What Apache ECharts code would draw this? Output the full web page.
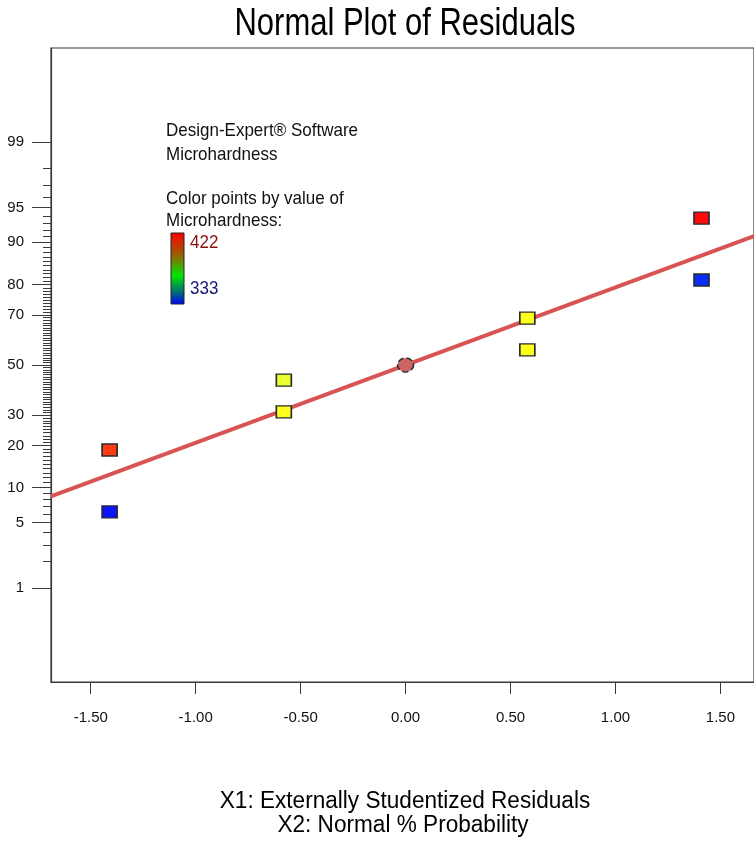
<!DOCTYPE html>
<html><head><meta charset="utf-8">
<script src="https://cdn.jsdelivr.net/npm/echarts@6/dist/echarts.min.js"></script>
<style>html,body{margin:0;padding:0;background:#fff}#c{width:754px;height:841px}</style>
</head><body><div id="c"></div>
<script>
// ---- data ----
const residuals      = [-1.41, -1.41, -0.58, -0.58, 0.00, 0.58, 0.58, 1.41, 1.41];
const probabilities  = [6.25, 18.75, 31.25, 43.75, 50.0, 56.25, 68.75, 81.25, 93.75];
const pointColors    = ['#0a14ff', '#ff3a14', '#ffff1e', '#eaff2e', '#cc6666', '#ffff1e', '#ffff1e', '#0a2cff', '#ff0a0a'];
const pointShapes    = ['rect', 'rect', 'rect', 'rect', 'circle', 'rect', 'rect', 'rect', 'rect'];
const fitResiduals   = [-1.69, 1.66];
const fitProbabilities = [8.5, 91.1];
const xTickValues    = [-1.5, -1.0, -0.5, 0.0, 0.5, 1.0, 1.5];
const yTickLabels    = [1, 5, 10, 20, 30, 50, 70, 80, 90, 95, 99];
const colorBarLabels = ['422', '333'];

// ---- normal probability scale (inverse normal CDF, Acklam) ----
function probit(p) {
  const a = [-3.969683028665376e+01, 2.209460984245205e+02, -2.759285104469687e+02, 1.383577518672690e+02, -3.066479806614716e+01, 2.506628277459239e+00];
  const b = [-5.447609879822406e+01, 1.615858368580409e+02, -1.556989798598866e+02, 6.680131188771972e+01, -1.328068155288572e+01];
  const c = [-7.784894002430293e-03, -3.223964580411365e-01, -2.400758277161838e+00, -2.549732539343734e+00, 4.374664141464968e+00, 2.938163982698783e+00];
  const d = [7.784695709041462e-03, 3.224671290700398e-01, 2.445134137142996e+00, 3.754408661907416e+00];
  const pl = 0.02425, ph = 1 - pl;
  let q, r;
  if (p < pl) {
    q = Math.sqrt(-2 * Math.log(p));
    return (((((c[0]*q+c[1])*q+c[2])*q+c[3])*q+c[4])*q+c[5]) / ((((d[0]*q+d[1])*q+d[2])*q+d[3])*q+1);
  } else if (p <= ph) {
    q = p - 0.5; r = q * q;
    return (((((a[0]*r+a[1])*r+a[2])*r+a[3])*r+a[4])*r+a[5])*q / (((((b[0]*r+b[1])*r+b[2])*r+b[3])*r+b[4])*r+1);
  } else {
    q = Math.sqrt(-2 * Math.log(1 - p));
    return -(((((c[0]*q+c[1])*q+c[2])*q+c[3])*q+c[4])*q+c[5]) / ((((d[0]*q+d[1])*q+d[2])*q+d[3])*q+1);
  }
}
const z = pct => probit(pct / 100);

const majorZ = yTickLabels.map(z);
const labelByZ = {};
yTickLabels.forEach((v, i) => { labelByZ[majorZ[i].toFixed(6)] = String(v); });
const minorZ = [];
for (let pc = 1; pc <= 99; pc++) if (yTickLabels.indexOf(pc) < 0) minorZ.push(z(pc));

const FONT = '"Liberation Sans", Arial, sans-serif';
const axisCol = '#3a3a3a';
const YMIN = -3.31, YMAX = 3.31, XMIN = -1.6893, XMAX = 1.66;

const pointData = residuals.map((x, i) => ({
  value: [x, z(probabilities[i])],
  symbol: pointShapes[i],
  symbolSize: pointShapes[i] === 'circle' ? [16, 14] : [15, 12],
  itemStyle: {
    color: pointColors[i],
    opacity: 1,
    borderColor: '#2a2a2a',
    borderWidth: 1.5,
    borderType: pointShapes[i] === 'circle' ? 'dashed' : 'solid'
  }
}));

function txt(x, y, text, size, sy, fill, align) {
  return { type: 'text', x: x, y: y, scaleY: sy,
    style: { text: text, fontSize: size, fontFamily: FONT, fill: fill, align: align, verticalAlign: 'middle' } };
}

const chart = echarts.init(document.getElementById('c'), null, { renderer: 'canvas' });
chart.setOption({
  animation: false,
  backgroundColor: '#fff',
  grid: { left: 51, top: 48, right: -2, bottom: 159, show: true, borderColor: axisCol, borderWidth: 1.2, containLabel: false },
  xAxis: {
    type: 'value', min: XMIN, max: XMAX,
    splitLine: { show: false },
    axisLine: { show: true, onZero: false, lineStyle: { color: axisCol, width: 1.2 } },
    axisTick: { show: true, length: 12, customValues: xTickValues, lineStyle: { color: axisCol, width: 1 } },
    axisLabel: { show: true, customValues: xTickValues, margin: 28, fontSize: 15, fontFamily: FONT, color: '#111',
      formatter: v => v.toFixed(2) }
  },
  yAxis: [{
    type: 'value', min: YMIN, max: YMAX, position: 'left',
    splitLine: { show: false },
    axisLine: { show: true, onZero: false, lineStyle: { color: axisCol, width: 1.2 } },
    axisTick: { show: true, length: 19, customValues: majorZ, lineStyle: { color: axisCol, width: 1 } },
    axisLabel: { show: true, customValues: majorZ, margin: 27, fontSize: 15, fontFamily: FONT, color: '#111',
      formatter: v => labelByZ[v.toFixed(6)] || '' }
  }, {
    type: 'value', min: YMIN, max: YMAX, position: 'left',
    splitLine: { show: false },
    axisLine: { show: false, onZero: false },
    axisTick: { show: true, length: 8, customValues: minorZ, lineStyle: { color: axisCol, width: 1 } },
    axisLabel: { show: false }
  }],
  series: [{
    type: 'line',
    data: fitResiduals.map((x, i) => [x, z(fitProbabilities[i])]),
    showSymbol: false, symbol: 'none',
    lineStyle: { color: '#d85454', width: 4 },
    z: 2
  }, {
    type: 'scatter',
    data: pointData,
    z: 3
  }],
  graphic: [
    txt(405, 24, 'Normal Plot of Residuals', 31, 1.27, '#000', 'center'),
    txt(166, 131, 'Design-Expert® Software', 17, 1.12, '#111', 'left'),
    txt(166, 155, 'Microhardness', 17, 1.12, '#111', 'left'),
    txt(166, 199, 'Color points by value of', 17, 1.12, '#111', 'left'),
    txt(166, 221, 'Microhardness:', 17, 1.12, '#111', 'left'),
    { type: 'rect', shape: { x: 171, y: 233, width: 13, height: 71 },
      style: { fill: new echarts.graphic.LinearGradient(0, 0, 0, 1, [
        { offset: 0, color: '#ff0000' }, { offset: 0.3, color: '#a05a00' }, { offset: 0.6, color: '#00e600' },
        { offset: 0.85, color: '#006080' }, { offset: 1, color: '#0000ff' }]), stroke: '#222', lineWidth: 1 } },
    txt(190, 243, colorBarLabels[0], 17, 1.12, '#8a1010', 'left'),
    txt(190, 289, colorBarLabels[1], 17, 1.12, '#141478', 'left'),
    txt(405, 801, 'X1: Externally Studentized Residuals', 22.6, 1.06, '#000', 'center'),
    txt(403, 825, 'X2: Normal % Probability', 22.6, 1.06, '#000', 'center')
  ]
});
</script>
</body></html>
